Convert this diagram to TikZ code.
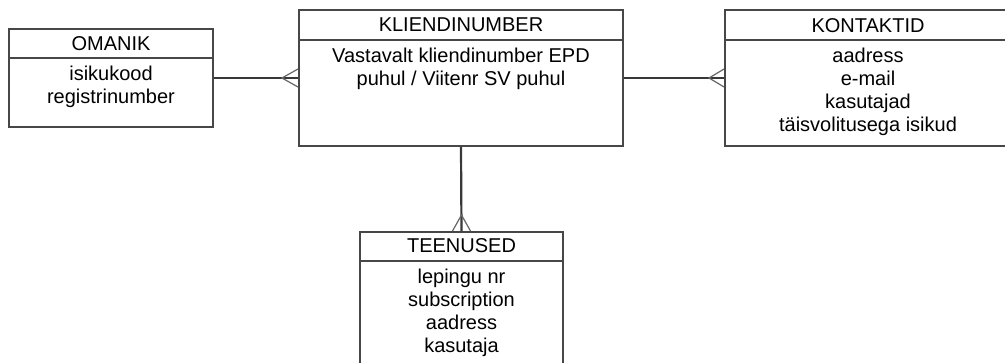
\documentclass[tikz,border=0pt]{standalone}
\usepackage{fontspec}
\setmainfont{Liberation Sans}
\usetikzlibrary{calc}
\begin{document}
\begin{tikzpicture}[x=1pt,y=-1pt,
  box/.style={draw=black!72, line width=2pt, fill=white, inner sep=0pt, rectangle},
  hline/.style={draw=black!72, line width=2pt},
  ttl/.style={anchor=base, inner sep=0pt, font=\fontsize{20}{23}\selectfont, text=black},
  attr/.style={anchor=north, inner sep=0pt, align=center, font=\fontsize{20}{23}\selectfont, execute at begin node=\strut, text=black},
  link/.style={draw=black!78, line width=2.2pt},
  crow/.style={draw=black!60, line width=1.2pt}]
\useasboundingbox (0,0) rectangle (1005,362);
\clip (0,0) rectangle (1005,362);
\fill[white] (0,0) rectangle (1005,362);

% OMANIK
\node[box, minimum width=204pt, minimum height=98pt] (om) at (111,78) {};
\draw[hline] ($(om.north west)+(0,30)$) -- ($(om.north east)+(0,30)$);
\node[ttl] (omt) at (111,50) {OMANIK};
\node[attr] (oma) at (111,65.4) {isikukood\\registrinumber};

% KLIENDINUMBER
\node[box, minimum width=324pt, minimum height=136pt] (kl) at (461,78) {};
\draw[hline] ($(kl.north west)+(0,31)$) -- ($(kl.north east)+(0,31)$);
\node[ttl] (klt) at (461,31.7) {KLIENDINUMBER};
\node[attr] (kla) at (461,47.4) {Vastavalt kliendinumber EPD\\puhul / Viitenr SV puhul};

% KONTAKTID
\node[box, minimum width=286pt, minimum height=136pt] (ko) at (868,78) {};
\draw[hline] ($(ko.north west)+(0,31)$) -- ($(ko.north east)+(0,31)$);
\node[ttl] (kot) at (868,32) {KONTAKTID};
\node[attr] (koa) at (868,47.4) {aadress\\e-mail\\kasutajad\\täisvolitusega isikud};

% TEENUSED
\node[box, minimum width=203pt, minimum height=150pt] (te) at (461.5,307) {};
\draw[hline] ($(te.north west)+(0,30)$) -- ($(te.north east)+(0,30)$);
\node[ttl] (tet) at (461.5,252.7) {TEENUSED};
\node[attr] (tea) at (461.5,268.6) {lepingu nr\\subscription\\aadress\\kasutaja};

% connectors
\draw[link] (om.east) -- (kl.west);
\draw[link] (kl.east) -- (ko.west);
\draw[link] (kl.south) -- (te.north);

% crow's feet
\draw[crow] ($(kl.west)+(0,-9)$) -- ($(kl.west)+(-16,0)$) -- ($(kl.west)+(0,9)$);
\draw[crow] ($(ko.west)+(0,-9)$) -- ($(ko.west)+(-15,0)$) -- ($(ko.west)+(0,9)$);
\draw[crow] ($(te.north)+(-9,0)$) -- ($(te.north)+(0,-16)$) -- ($(te.north)+(9,0)$);
\end{tikzpicture}
\end{document}
